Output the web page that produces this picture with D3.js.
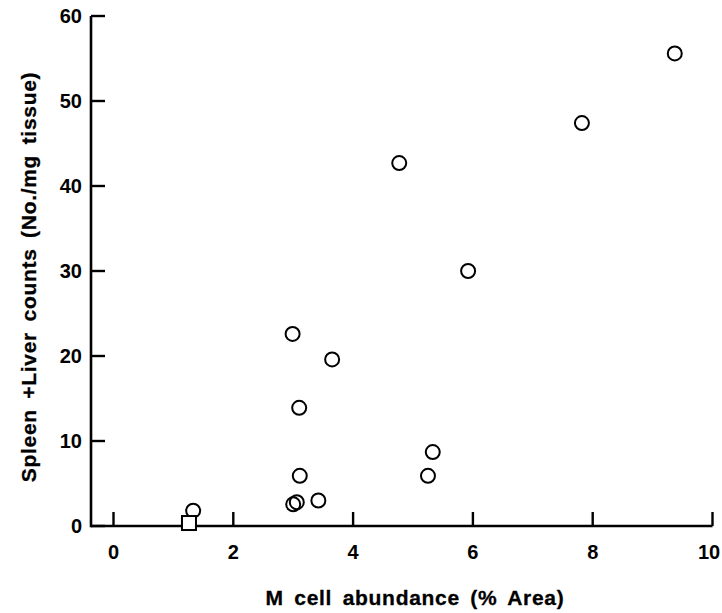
<!DOCTYPE html>
<html>
<head>
<meta charset="utf-8">
<script src="https://cdn.jsdelivr.net/npm/d3@7"></script>
<style>
html,body{margin:0;padding:0;background:#fff;}
svg{display:block;}
.tick-label{font-family:"Liberation Sans",Arial,Helvetica,sans-serif;font-weight:bold;font-size:20px;fill:#000;}
.title{font-family:"Liberation Sans",Arial,Helvetica,sans-serif;font-weight:bold;font-size:21px;fill:#000;stroke:#000;stroke-width:0.3px;word-spacing:4px;letter-spacing:0.7px;}
</style>
</head>
<body>
<svg id="chart" width="722" height="613"></svg>
<script>
// Data
const circleX = [1.33, 2.99, 3.00, 3.06, 3.10, 3.11, 3.42, 3.65, 4.77, 5.25, 5.33, 5.92, 7.82, 9.37];
const circleY = [1.8, 22.6, 2.55, 2.8, 13.9, 5.9, 3.0, 19.6, 42.7, 5.9, 8.7, 30.0, 47.4, 55.6];
const squareX = [1.26];
const squareY = [0.35];
const xTicks = [0, 2, 4, 6, 8, 10];
const yTicks = [0, 10, 20, 30, 40, 50, 60];
const xTitle = "M cell abundance (% Area)";
const yTitle = "Spleen +Liver counts (No./mg tissue)";

const svg = d3.select("#chart");
const x = d3.scaleLinear().domain([0, 10]).range([113.5, 712.5]);
const y = d3.scaleLinear().domain([0, 60]).range([526, 16]);
const axisLeftX = 91;

const g = svg.append("g");

// Axis lines
g.append("line").attr("x1", axisLeftX).attr("x2", x(10)).attr("y1", y(0)).attr("y2", y(0))
  .attr("stroke", "#000").attr("stroke-width", 2.6);
g.append("line").attr("x1", axisLeftX).attr("x2", axisLeftX).attr("y1", y(0) + 1.3).attr("y2", y(60))
  .attr("stroke", "#000").attr("stroke-width", 2.6);

// X ticks (upward)
g.selectAll(".xt").data(xTicks).enter().append("line")
  .attr("x1", d => x(d)).attr("x2", d => x(d))
  .attr("y1", y(0)).attr("y2", y(0) - 14)
  .attr("stroke", "#000").attr("stroke-width", 2.4);
g.selectAll(".xl").data(xTicks).enter().append("text")
  .attr("class", "tick-label")
  .attr("x", d => Math.min(x(d), 709)).attr("y", 559)
  .attr("text-anchor", "middle")
  .text(d => d);

// Y ticks (rightward)
g.selectAll(".yt").data(yTicks).enter().append("line")
  .attr("x1", axisLeftX).attr("x2", axisLeftX + 14)
  .attr("y1", d => y(d)).attr("y2", d => y(d))
  .attr("stroke", "#000").attr("stroke-width", 2.4);
g.selectAll(".yl").data(yTicks).enter().append("text")
  .attr("class", "tick-label")
  .attr("x", 82).attr("y", d => y(d) + 7)
  .attr("text-anchor", "end")
  .text(d => d);

// Circles
const pts = circleX.map((v, i) => ({x: v, y: circleY[i]}));
g.selectAll(".pt").data(pts).enter().append("circle")
  .attr("cx", d => x(d.x)).attr("cy", d => y(d.y)).attr("r", 7)
  .attr("fill", "none").attr("stroke", "#000").attr("stroke-width", 2);

// Square
const sq = squareX.map((v, i) => ({x: v, y: squareY[i]}));
g.selectAll(".sq").data(sq).enter().append("rect")
  .attr("x", d => x(d.x) - 7).attr("y", d => y(d.y) - 7)
  .attr("width", 14).attr("height", 14)
  .attr("fill", "#fff").attr("stroke", "#000").attr("stroke-width", 2);

// Titles
g.append("text").attr("class", "title")
  .attr("x", 415).attr("y", 605).attr("text-anchor", "middle")
  .text(xTitle);
g.append("text").attr("class", "title")
  .attr("transform", "translate(36,277) rotate(-90)")
  .attr("text-anchor", "middle")
  .text(yTitle);
</script>
</body>
</html>
